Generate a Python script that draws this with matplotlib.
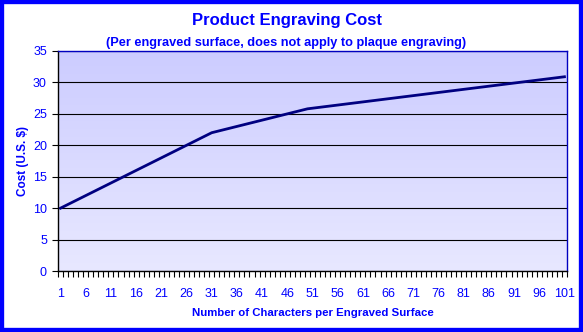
import numpy as np
import matplotlib.pyplot as plt
from matplotlib.patches import Rectangle
from matplotlib.ticker import MultipleLocator, FixedLocator

# Characters per engraved surface and cost (U.S. $)
characters = list(range(1, 102))
cost = [10.0, 10.4, 10.8, 11.2, 11.6, 12.0, 12.4, 12.8, 13.2, 13.6,
        14.0, 14.4, 14.8, 15.2, 15.6, 16.0, 16.4, 16.8, 17.2, 17.6,
        18.0, 18.4, 18.8, 19.2, 19.6, 20.0, 20.4, 20.8, 21.2, 21.6,
        22.0, 22.2, 22.4, 22.6, 22.8, 23.0, 23.2, 23.4, 23.6, 23.8,
        24.0, 24.2, 24.4, 24.6, 24.8, 25.0, 25.2, 25.4, 25.6, 25.8,
        25.9, 26.0, 26.1, 26.2, 26.3, 26.4, 26.5, 26.6, 26.7, 26.8,
        26.9, 27.0, 27.1, 27.2, 27.3, 27.4, 27.5, 27.6, 27.7, 27.8,
        27.9, 28.0, 28.1, 28.2, 28.3, 28.4, 28.5, 28.6, 28.7, 28.8,
        28.9, 29.0, 29.1, 29.2, 29.3, 29.4, 29.5, 29.6, 29.7, 29.8,
        29.9, 30.0, 30.1, 30.2, 30.3, 30.4, 30.5, 30.6, 30.7, 30.8,
        30.9]
xtick_labels = [str(c) for c in characters[::5]]
yticks = [0, 5, 10, 15, 20, 25, 30, 35]

plt.rcParams['font.family'] = ['Liberation Sans', 'DejaVu Sans']
blue = "#0000ff"

fig = plt.figure(figsize=(5.83, 3.32), dpi=100)
ax = fig.add_axes([0.0995, 0.1837, 0.873, 0.6627])

# gradient background of the plot area
grad = np.linspace(0, 1, 256).reshape(-1, 1)
top_c = np.array([204, 204, 255]) / 255
bot_c = np.array([232, 232, 255]) / 255
img = top_c * (1 - grad)[..., None] + bot_c * grad[..., None]
ax.imshow(img, extent=[0, 1, 0, 1], transform=ax.transAxes, aspect="auto", zorder=0)

ax.plot(characters, cost, color="#000080", linewidth=2.0, zorder=3)

ax.set_xlim(0.5, 101.5)
ax.set_ylim(0, 35)
ax.set_yticks(yticks)
ax.yaxis.grid(True, color="black", linewidth=0.8, zorder=1)
ax.set_axisbelow(True)

ax.xaxis.set_major_locator(FixedLocator(characters[::5]))
ax.set_xticklabels(xtick_labels)
ax.xaxis.set_minor_locator(MultipleLocator(1, offset=0.5))
ax.tick_params(axis="x", which="major", length=0, pad=12, labelsize=9, labelcolor=blue)
ax.tick_params(axis="x", which="minor", length=4, width=0.8, color="black")
ax.tick_params(axis="y", length=4, width=0.8, color="black", labelsize=9, labelcolor=blue, pad=4)

for side in ["left", "bottom"]:
    ax.spines[side].set_color("black")
    ax.spines[side].set_linewidth(1.0)
for side in ["top", "right"]:
    ax.spines[side].set_color("#0000c0")
    ax.spines[side].set_linewidth(1.0)

ax.set_xlabel("Number of Characters per Engraved Surface", fontsize=8.2, fontweight="bold",
              color=blue, labelpad=6)
ax.set_ylabel("Cost (U.S. $)", fontsize=8.5, fontweight="bold", color=blue, labelpad=3)

fig.text(0.493, 0.937, "Product Engraving Cost", ha="center", va="center",
         fontsize=12, fontweight="bold", color=blue)
fig.text(0.491, 0.870, "(Per engraved surface, does not apply to plaque engraving)",
         ha="center", va="center", fontsize=9.2, fontweight="bold", color=blue)

# blue frame around the whole chart
fig.patches.append(Rectangle((0, 0), 1, 1, transform=fig.transFigure, fill=False,
                             edgecolor=blue, linewidth=6, zorder=10))

fig.savefig("out.png", dpi=100)
